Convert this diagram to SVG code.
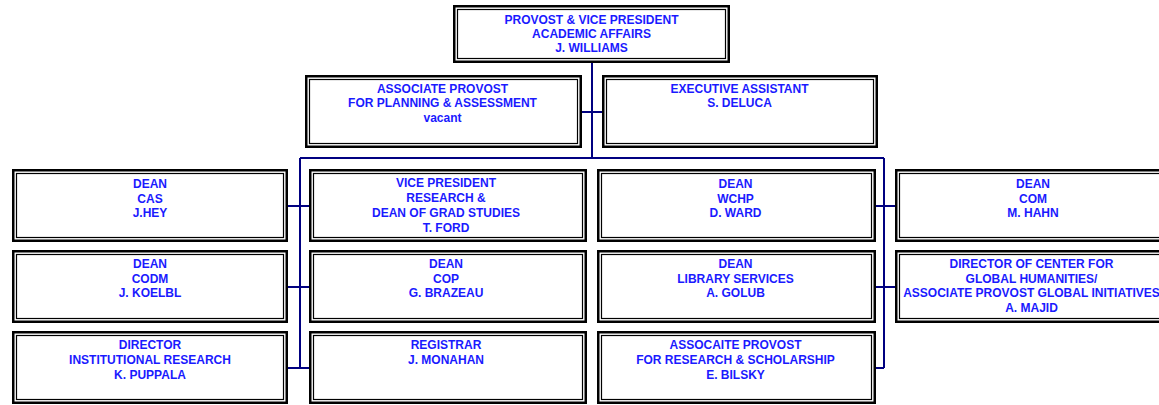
<svg xmlns="http://www.w3.org/2000/svg" width="1159" height="405" viewBox="0 0 1159 405">
<style>
.o{fill:#fff;stroke:#000;stroke-width:2.5}
.i{fill:none;stroke:#000;stroke-width:1.2}
.t{font-family:"Liberation Sans",Arial,sans-serif;font-weight:bold;font-size:12px;fill:#1a1aff;text-anchor:middle}
.c{stroke:#000080;stroke-width:2;fill:none}
</style>
<rect width="1159" height="405" fill="#fff"/>
<g id="connectors">
<path class="c" d="M592,63V158M582,112H602M300,158H884M300,158V368M884,158V368M288,206H309M288,287H309M288,368H309M876,206H895M876,287H895M876,368H884"/>
</g>
<g id="provost">
<rect class="o" x="454.25" y="6.25" width="274.5" height="55.5"/><rect class="i" x="457.5" y="9.5" width="268" height="49"/>
<text class="t" y="23.8"><tspan x="591.5">PROVOST &amp; VICE PRESIDENT</tspan><tspan x="591.5" dy="14.2">ACADEMIC AFFAIRS</tspan><tspan x="591.5" dy="14.2">J. WILLIAMS</tspan></text>
</g>
<g id="assoc-planning">
<rect class="o" x="306.25" y="76.25" width="274.5" height="70.5"/><rect class="i" x="309.5" y="79.5" width="268" height="64"/>
<text class="t" y="92.7"><tspan x="442.5">ASSOCIATE PROVOST</tspan><tspan x="442.5" dy="14.5">FOR PLANNING &amp; ASSESSMENT</tspan><tspan x="442.5" dy="14.5">vacant</tspan></text>
</g>
<g id="exec-assistant">
<rect class="o" x="603.25" y="76.25" width="273.5" height="70.5"/><rect class="i" x="606.5" y="79.5" width="267" height="64"/>
<text class="t" y="92.7"><tspan x="739.5">EXECUTIVE ASSISTANT</tspan><tspan x="739.5" dy="14.5">S. DELUCA</tspan></text>
</g>
<g id="dean-cas">
<rect class="o" x="13.25" y="170.25" width="273.5" height="70.5"/><rect class="i" x="16.5" y="173.5" width="267" height="64"/>
<text class="t" y="188.2"><tspan x="150">DEAN</tspan><tspan x="150" dy="14.3">CAS</tspan><tspan x="150" dy="14.3">J.HEY</tspan></text>
</g>
<g id="vp-research">
<rect class="o" x="310.25" y="170.25" width="275.5" height="70.5"/><rect class="i" x="313.5" y="173.5" width="269" height="64"/>
<text class="t" y="187.4"><tspan x="446">VICE PRESIDENT</tspan><tspan x="446" dy="14.7">RESEARCH &amp;</tspan><tspan x="446" dy="14.7">DEAN OF GRAD STUDIES</tspan><tspan x="446" dy="14.7">T. FORD</tspan></text>
</g>
<g id="dean-wchp">
<rect class="o" x="598.25" y="170.25" width="276.5" height="70.5"/><rect class="i" x="601.5" y="173.5" width="270" height="64"/>
<text class="t" y="188.2"><tspan x="735.5">DEAN</tspan><tspan x="735.5" dy="14.3">WCHP</tspan><tspan x="735.5" dy="14.3">D. WARD</tspan></text>
</g>
<g id="dean-com">
<rect class="o" x="896.25" y="170.25" width="274.5" height="70.5"/><rect class="i" x="899.5" y="173.5" width="268" height="64"/>
<text class="t" y="188.2"><tspan x="1033">DEAN</tspan><tspan x="1033" dy="14.3">COM</tspan><tspan x="1033" dy="14.3">M. HAHN</tspan></text>
</g>
<g id="dean-codm">
<rect class="o" x="13.25" y="251.25" width="273.5" height="70.5"/><rect class="i" x="16.5" y="254.5" width="267" height="64"/>
<text class="t" y="268.3"><tspan x="150">DEAN</tspan><tspan x="150" dy="14.5">CODM</tspan><tspan x="150" dy="14.5">J. KOELBL</tspan></text>
</g>
<g id="dean-cop">
<rect class="o" x="310.25" y="251.25" width="275.5" height="70.5"/><rect class="i" x="313.5" y="254.5" width="269" height="64"/>
<text class="t" y="268.3"><tspan x="446">DEAN</tspan><tspan x="446" dy="14.5">COP</tspan><tspan x="446" dy="14.5">G. BRAZEAU</tspan></text>
</g>
<g id="dean-library">
<rect class="o" x="598.25" y="251.25" width="276.5" height="70.5"/><rect class="i" x="601.5" y="254.5" width="270" height="64"/>
<text class="t" y="268.3"><tspan x="735.5">DEAN</tspan><tspan x="735.5" dy="14.5">LIBRARY SERVICES</tspan><tspan x="735.5" dy="14.5">A. GOLUB</tspan></text>
</g>
<g id="director-global">
<rect class="o" x="896.25" y="251.25" width="274.5" height="70.5"/><rect class="i" x="899.5" y="254.5" width="268" height="64"/>
<text class="t" y="268.3"><tspan x="1031.5">DIRECTOR OF CENTER FOR</tspan><tspan x="1031.5" dy="14.5">GLOBAL HUMANITIES/</tspan><tspan x="1031.5" dy="14.5">ASSOCIATE PROVOST GLOBAL INITIATIVES</tspan><tspan x="1031.5" dy="14.5">A. MAJID</tspan></text>
</g>
<g id="director-ir">
<rect class="o" x="13.25" y="332.25" width="273.5" height="70.5"/><rect class="i" x="16.5" y="335.5" width="267" height="64"/>
<text class="t" y="349.4"><tspan x="150">DIRECTOR</tspan><tspan x="150" dy="14.6">INSTITUTIONAL RESEARCH</tspan><tspan x="150" dy="14.6">K. PUPPALA</tspan></text>
</g>
<g id="registrar">
<rect class="o" x="310.25" y="332.25" width="275.5" height="70.5"/><rect class="i" x="313.5" y="335.5" width="269" height="64"/>
<text class="t" y="349.4"><tspan x="446">REGISTRAR</tspan><tspan x="446" dy="14.6">J. MONAHAN</tspan></text>
</g>
<g id="assoc-research">
<rect class="o" x="598.25" y="332.25" width="276.5" height="70.5"/><rect class="i" x="601.5" y="335.5" width="270" height="64"/>
<text class="t" y="349.4"><tspan x="735.5">ASSOCAITE PROVOST</tspan><tspan x="735.5" dy="14.6">FOR RESEARCH &amp; SCHOLARSHIP</tspan><tspan x="735.5" dy="14.6">E. BILSKY</tspan></text>
</g>
</svg>
